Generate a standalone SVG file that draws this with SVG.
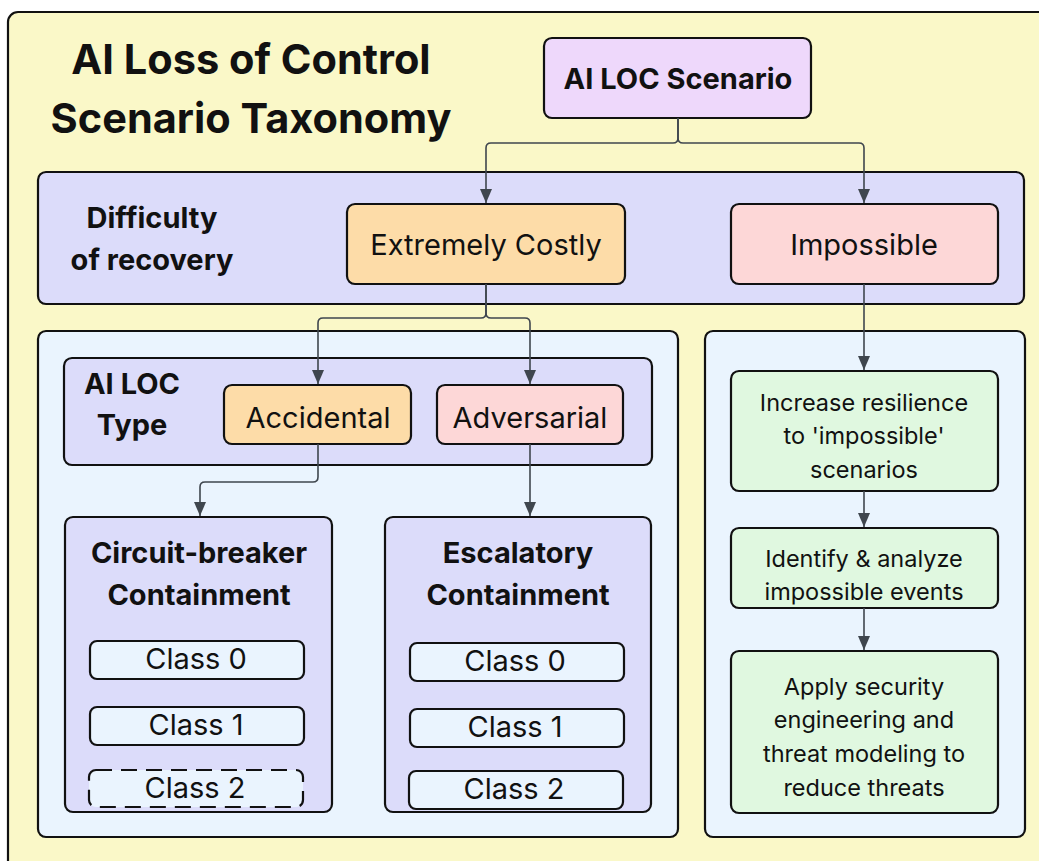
<svg xmlns="http://www.w3.org/2000/svg" width="1039" height="861" viewBox="0 0 1039 861">
<defs>
<style>
.box{stroke:#111;stroke-width:2.2}
.t{font-family:Inter,"Liberation Sans",sans-serif;fill:#111;text-anchor:middle}
.b{font-weight:700}
.l{font-size:29px}
.g{font-size:23.5px}
.edge{fill:none;stroke:#3f464e;stroke-width:1.6}
</style>
<marker id="ah" viewBox="0 0 14 12" refX="14" refY="6" markerWidth="14" markerHeight="12" markerUnits="userSpaceOnUse" orient="auto">
<path d="M0,0 L14,6 L0,12 z" fill="#3f464e"/>
</marker>
</defs>
<rect x="0" y="0" width="1039" height="861" fill="#ffffff"/>
<g id="frame">
<rect class="box" x="8" y="12" width="1060" height="880" rx="10" fill="#faf8c8"/>
<text class="t b" x="251" y="74" font-size="41.5">AI Loss of Control</text>
<text class="t b" x="251" y="133" font-size="41.5">Scenario Taxonomy</text>
</g>
<g id="difficulty-band">
<rect class="box" x="38" y="172" width="986" height="132" rx="8" fill="#dcdcfa"/>
<text class="t b l" x="152" y="228">Difficulty</text>
<text class="t b l" x="152" y="270">of recovery</text>
</g>
<g id="left-panel">
<rect class="box" x="38" y="331" width="640" height="506" rx="8" fill="#eaf4fe"/>
</g>
<g id="right-panel">
<rect class="box" x="705" y="331" width="320" height="506" rx="8" fill="#eaf4fe"/>
</g>
<g id="type-band">
<rect class="box" x="64" y="358" width="588" height="107" rx="8" fill="#dcdcfa"/>
<text class="t b l" x="132" y="394">AI LOC</text>
<text class="t b l" x="132" y="435">Type</text>
</g>
<g id="scenario">
<rect class="box" x="544" y="38" width="267" height="80" rx="8" fill="#eed8fb"/>
<text class="t b l" x="678" y="89">AI LOC Scenario</text>
</g>
<g id="costly">
<rect class="box" x="347" y="204" width="278" height="80" rx="8" fill="#fddca8"/>
<text class="t l" x="486" y="255">Extremely Costly</text>
</g>
<g id="impossible">
<rect class="box" x="731" y="204" width="267" height="80" rx="8" fill="#fdd7d7"/>
<text class="t l" x="864" y="255">Impossible</text>
</g>
<g id="accidental">
<rect class="box" x="224" y="385" width="187" height="59" rx="8" fill="#fddca8"/>
<text class="t l" x="318" y="428">Accidental</text>
</g>
<g id="adversarial">
<rect class="box" x="437" y="385" width="186" height="59" rx="8" fill="#fdd7d7"/>
<text class="t l" x="530" y="428">Adversarial</text>
</g>
<g id="circuit-breaker">
<rect class="box" x="65" y="517" width="267" height="295" rx="8" fill="#dcdcfa"/>
<text class="t b l" x="199" y="563">Circuit-breaker</text>
<text class="t b l" x="199" y="605">Containment</text>
<rect class="box" x="90" y="641" width="214" height="38" rx="7" fill="#eaf4fe"/>
<text class="t l" x="196" y="669">Class 0</text>
<rect class="box" x="90" y="707" width="214" height="38" rx="7" fill="#eaf4fe"/>
<text class="t l" x="196" y="735">Class 1</text>
<rect class="box" x="89" y="770" width="214" height="37" rx="7" fill="#eaf4fe" stroke-dasharray="16,9"/>
<text class="t l" x="195" y="798">Class 2</text>
</g>
<g id="escalatory">
<rect class="box" x="385" y="517" width="266" height="295" rx="8" fill="#dcdcfa"/>
<text class="t b l" x="518" y="563">Escalatory</text>
<text class="t b l" x="518" y="605">Containment</text>
<rect class="box" x="410" y="643" width="214" height="38" rx="7" fill="#eaf4fe"/>
<text class="t l" x="515" y="671">Class 0</text>
<rect class="box" x="410" y="709" width="214" height="38" rx="7" fill="#eaf4fe"/>
<text class="t l" x="515" y="737">Class 1</text>
<rect class="box" x="409" y="771" width="214" height="38" rx="7" fill="#eaf4fe"/>
<text class="t l" x="514" y="799">Class 2</text>
</g>
<g id="resilience">
<rect class="box" x="731" y="371" width="267" height="120" rx="8" fill="#e0f8e0"/>
<text class="t g" x="864" y="411">Increase resilience</text>
<text class="t g" x="864" y="444">to 'impossible'</text>
<text class="t g" x="864" y="478">scenarios</text>
</g>
<g id="identify">
<rect class="box" x="731" y="528" width="267" height="80" rx="8" fill="#e0f8e0"/>
<text class="t g" x="864" y="567">Identify &amp; analyze</text>
<text class="t g" x="864" y="600">impossible events</text>
</g>
<g id="apply">
<rect class="box" x="731" y="651" width="267" height="162" rx="8" fill="#e0f8e0"/>
<text class="t g" x="864" y="695">Apply security</text>
<text class="t g" x="864" y="728">engineering and</text>
<text class="t g" x="864" y="762">threat modeling to</text>
<text class="t g" x="864" y="796">reduce threats</text>
</g>
<g id="connectors">
<path class="edge" marker-end="url(#ah)" d="M678,118 V138 Q678,143 673,143 H491 Q486,143 486,148 V203"/>
<path class="edge" marker-end="url(#ah)" d="M678,118 V138 Q678,143 683,143 H859 Q864,143 864,148 V203"/>
<path class="edge" marker-end="url(#ah)" d="M486,284 V313 Q486,318 481,318 H323 Q318,318 318,323 V384"/>
<path class="edge" marker-end="url(#ah)" d="M486,284 V313 Q486,318 491,318 H525 Q530,318 530,323 V384"/>
<path class="edge" marker-end="url(#ah)" d="M318,444 V477 Q318,482 313,482 H205 Q200,482 200,487 V516"/>
<path class="edge" marker-end="url(#ah)" d="M530,444 V516"/>
<path class="edge" marker-end="url(#ah)" d="M864,284 V370"/>
<path class="edge" marker-end="url(#ah)" d="M864,491 V527"/>
<path class="edge" marker-end="url(#ah)" d="M864,608 V650"/>
</g>
</svg>
